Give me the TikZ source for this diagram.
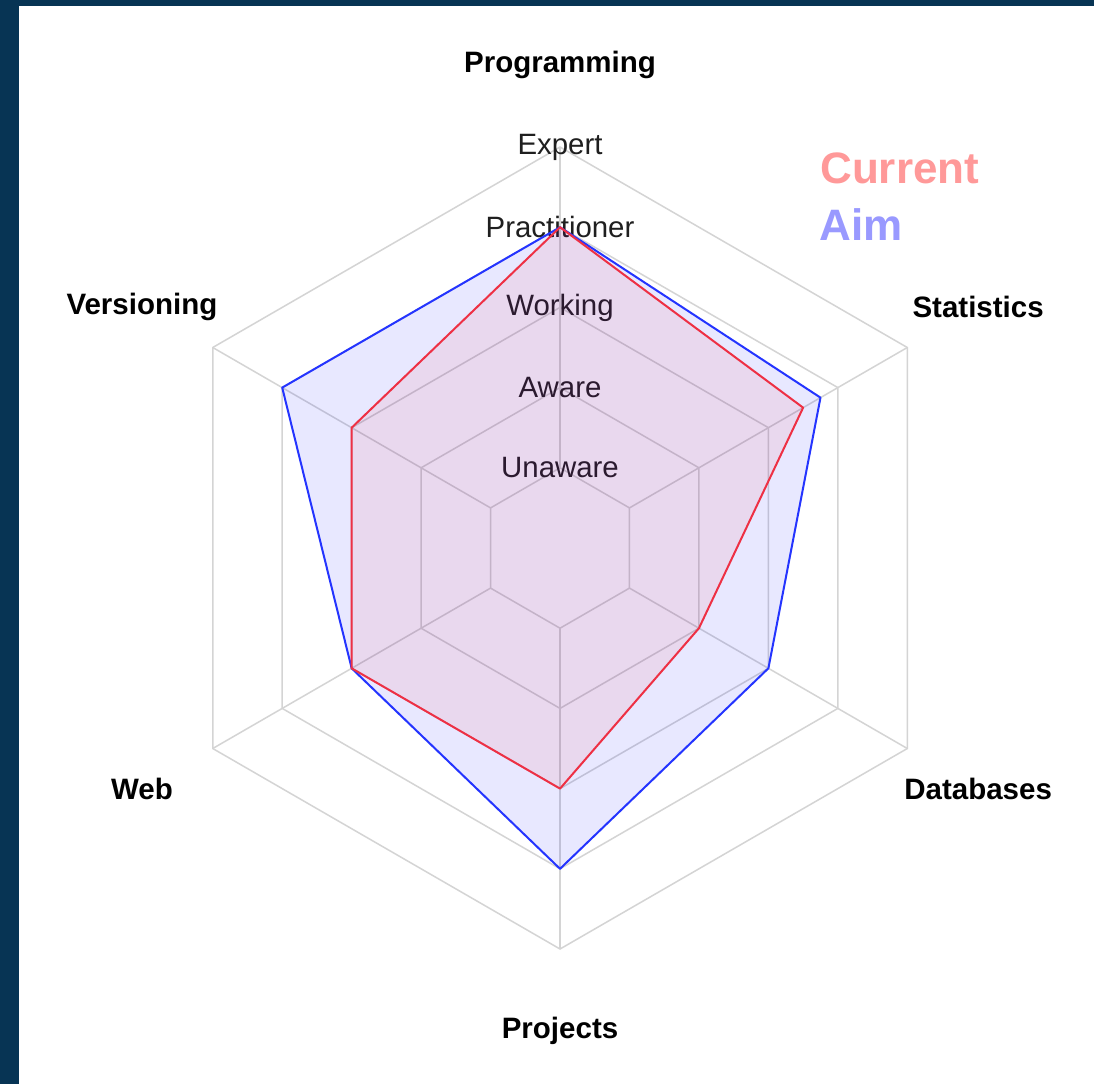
\documentclass[tikz,border=0pt]{standalone}
\usepackage{fontspec}
\setmainfont{Liberation Sans}
\definecolor{navy}{RGB}{7,52,84}
\definecolor{gridgray}{RGB}{212,212,212}
\definecolor{curred}{RGB}{238,48,68}
\definecolor{aimblue}{RGB}{36,52,255}
\definecolor{curlight}{RGB}{255,153,153}
\definecolor{aimlight}{RGB}{153,153,255}
\tikzset{
  gridline/.style={draw=gridgray,line width=0.75pt},
  levellabel/.style={inner sep=0pt,text=black!88,font=\fontsize{14.7}{16}\selectfont},
  axislabel/.style={inner sep=0pt,font=\fontsize{14.75}{16}\selectfont\bfseries},
  legendlabel/.style={inner sep=0pt,anchor=base west,font=\fontsize{22}{24}\selectfont\bfseries},
  curline/.style={draw=curred,line width=1pt,line join=round,fill=red,fill opacity=0.065},
  aimline/.style={draw=aimblue,line width=1pt,line join=round,fill=blue,fill opacity=0.09}
}
\begin{document}
\begin{tikzpicture}[x=40.1pt,y=40.1pt]
    \useasboundingbox (-6.983,-6.683) rectangle (6.658,6.833);
    \fill[navy] (-6.983,-6.683) rectangle (6.658,6.833);
    \fill[white] (-6.746,-6.683) rectangle (6.658,6.758);

    % rings and spokes
    \foreach \r in {1,...,5}
      \draw[gridline] (90:\r) -- (30:\r) -- (-30:\r) -- (-90:\r) -- (-150:\r) -- (150:\r) -- cycle;
    \foreach \a in {90,30,-30,-90,-150,150}
      \draw[gridline] (\a:1) -- (\a:5);

    \foreach \r/\lev in {1/Unaware,2/Aware,3/Working,4/Practitioner,5/Expert}
      \node[levellabel] (lev\r) at (0,\r) {\lev};

    % skill profiles
    \draw[aimline] (90:4) -- (30:3.75) -- (-30:3) -- (-90:4) -- (-150:3) -- (150:4) -- cycle;
    \draw[curline] (90:4) -- (30:3.5) -- (-30:2) -- (-90:3) -- (-150:3) -- (150:3) -- cycle;

    \node[axislabel] (prog) at (90:6.02) {Programming};
    \node[axislabel] (stats) at (30:6.02) {Statistics};
    \node[axislabel] (dbs) at (-30:6.02) {Databases};
    \node[axislabel] (proj) at (-90:6.02) {Projects};
    \node[axislabel] (web) at (-150:6.02) {Web};
    \node[axislabel] (vers) at (150:6.02) {Versioning};

    \node[legendlabel,text=curlight] (current) at (3.24,4.54) {Current};
    \node[legendlabel,text=aimlight] (aim) at (3.23,3.84) {Aim};
  \end{tikzpicture}
\end{document}
